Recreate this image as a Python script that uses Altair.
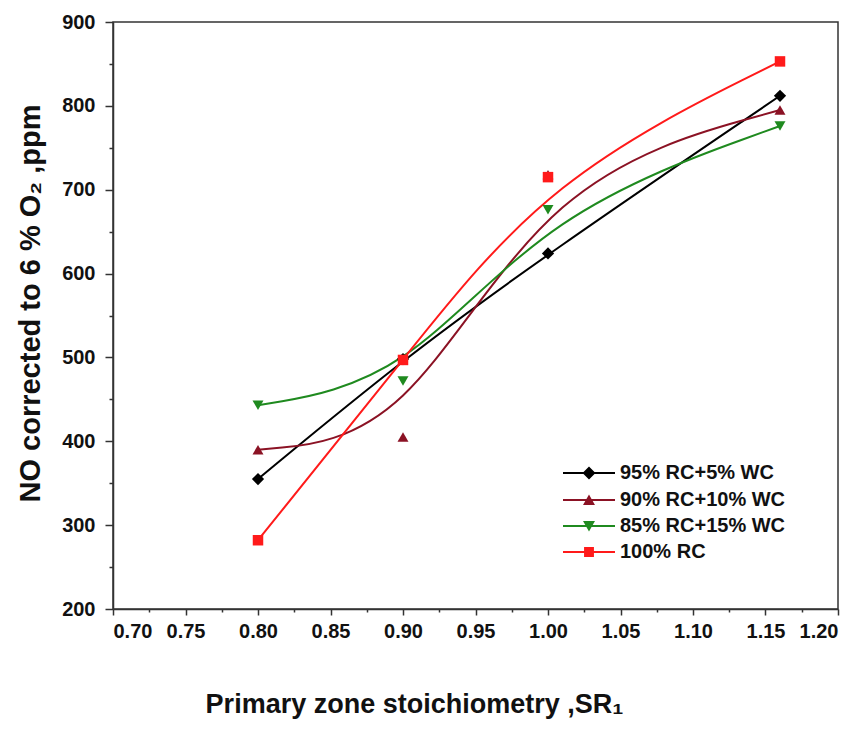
import altair as alt
import pandas as pd

# ---- data ----
sr = [0.80, 0.90, 1.00, 1.16]
series_names = ["95% RC+5%  WC", "90% RC+10% WC", "85% RC+15% WC", "100% RC"]
no_95 = [355, 498, 624, 812]
no_90 = [390, 405, 718, 795]
no_85 = [443, 472, 676, 776]
no_100 = [282, 497, 715, 853]
colors = ["#000000", "#8B1224", "#1F8A1F", "#FF1A1A"]
shapes = ["diamond", "triangle-up", "triangle-down", "square"]
marker_sizes = [150, 120, 120, 110]
x_ticks = [0.70, 0.725, 0.75, 0.775, 0.80, 0.825, 0.85, 0.875, 0.90, 0.925, 0.95,
           0.975, 1.00, 1.025, 1.05, 1.075, 1.10, 1.125, 1.15, 1.175, 1.20]
y_ticks = [200, 250, 300, 350, 400, 450, 500, 550, 600, 650, 700, 750, 800, 850, 900]

series_values = [no_95, no_90, no_85, no_100]
frames = []
for name, vals in zip(series_names, series_values):
    frames.append(pd.DataFrame({"series": name, "sr": sr, "no": vals}))

# legend symbols: a thin filled bar (the line) with the marker in its middle
STUB = "M-1,-0.038L1,-0.038L1,0.038L-1,0.038Z"
legend_paths = [
    STUB + "M0,-0.25L0.25,0L0,0.25L-0.25,0Z",
    STUB + "M0,-0.21L0.23,0.19L-0.23,0.19Z",
    STUB + "M-0.23,-0.19L0.23,-0.19L0,0.21Z",
    STUB + "M-0.19,-0.19L0.19,-0.19L0.19,0.19L-0.19,0.19Z",
]
legend_y = [441, 468, 494, 520]

FONT = "Liberation Sans"
AXIS_COLOR = "#333333"
TEXT_COLOR = "#111111"

x_scale = alt.Scale(domain=[0.70, 1.20], nice=False, zero=False)
y_scale = alt.Scale(domain=[200, 900], nice=False, zero=False)

x_axis = alt.Axis(
    values=x_ticks, format=".2f",
    labelExpr="round(datum.value*1000) % 50 == 0 ? datum.label : ''",
    tickSize={"condition": {"test": "round(datum.value*1000) % 50 != 0", "value": 3}, "value": 6},
    title="Primary zone stoichiometry ,SR₁", titleX=301,
    grid=False, tickWidth=1.5, tickColor=AXIS_COLOR,
    domainColor=AXIS_COLOR, domainWidth=1.5, labelOverlap=False,
    labelFont=FONT, labelFontSize=20, labelFontWeight="bold", labelColor=TEXT_COLOR,
    labelPadding=6, titleFont=FONT, titleFontSize=27, titleFontWeight="bold",
    titleColor=TEXT_COLOR, titlePadding=50,
)
y_axis = alt.Axis(
    values=y_ticks, format="d",
    labelExpr="datum.value % 100 == 0 ? datum.label : ''",
    tickSize={"condition": {"test": "datum.value % 100 != 0", "value": 4}, "value": 8},
    title="NO corrected to 6 % O₂ ,ppm", titleY=281,
    grid=False, tickWidth=1.5, tickColor=AXIS_COLOR,
    domainColor=AXIS_COLOR, domainWidth=1.5, labelOverlap=False,
    labelFont=FONT, labelFontSize=20, labelFontWeight="bold", labelColor=TEXT_COLOR,
    labelPadding=10, titleFont=FONT, titleFontSize=29, titleFontWeight="bold",
    titleColor=TEXT_COLOR, titlePadding=16,
)

X = alt.X("sr:Q", scale=x_scale, axis=x_axis)
Y = alt.Y("no:Q", scale=y_scale, axis=y_axis)

layers = []

# smooth curves (B-spline through the measured points)
for i, df in enumerate(frames):
    layers.append(
        alt.Chart(df).mark_line(interpolate="basis", strokeWidth=2, color=colors[i]).encode(x=X, y=Y)
    )

# markers
for i, df in enumerate(frames):
    layers.append(
        alt.Chart(df).mark_point(
            filled=True, shape=shapes[i], size=marker_sizes[i], color=colors[i], opacity=1
        ).encode(x=X, y=Y)
    )

# one single-entry legend per series (each from its own channel), drawn by
# invisible zero-size marks
legend_channels = ["shape", "strokeDash", "color", "opacity"]
for i, (name, df) in enumerate(zip(series_names, frames)):
    leg = alt.Legend(
        title=None, orient="none", legendX=450, legendY=legend_y[i], padding=0,
        labelFont=FONT, labelFontSize=20, labelFontWeight="bold", labelColor=TEXT_COLOR,
        labelLimit=400, labelOffset=5,
        symbolType=legend_paths[i], symbolSize=2704, symbolStrokeWidth=0,
        symbolFillColor=colors[i], symbolOpacity=1,
        clipHeight=20,
    )
    ch = legend_channels[i]
    mark_kwargs = dict(size=0, filled=True, strokeWidth=0)
    if ch == "shape":
        enc = alt.Shape("series:N", scale=alt.Scale(domain=[name], range=[legend_paths[i]]), legend=leg)
        mark_kwargs.update(fill=colors[i], stroke=colors[i])
    elif ch == "strokeDash":
        enc = alt.StrokeDash("series:N", scale=alt.Scale(domain=[name], range=[[1, 0]]), legend=leg)
        mark_kwargs.update(fill=colors[i], stroke=colors[i])
    elif ch == "color":
        enc = alt.Color("series:N", scale=alt.Scale(domain=[name], range=[colors[i]]), legend=leg)
    else:
        enc = alt.Opacity("series:O", scale=alt.Scale(domain=[name], range=[1]), legend=leg)
        mark_kwargs.update(fill=colors[i], stroke=colors[i])
    layers.append(
        alt.Chart(df).mark_point(**mark_kwargs).encode(x=X, y=Y, **{ch: enc})
    )

chart = (
    alt.layer(*layers)
    .properties(
        width=725,
        height=587,
        padding={"left": 113, "top": 22, "right": 26, "bottom": 120},
        autosize=alt.AutoSizeParams(type="none"),
        background="white",
    )
    .configure_view(stroke=AXIS_COLOR, strokeWidth=1.5)
)

chart.save("out.html", embed_options={"renderer": "svg", "actions": False})
